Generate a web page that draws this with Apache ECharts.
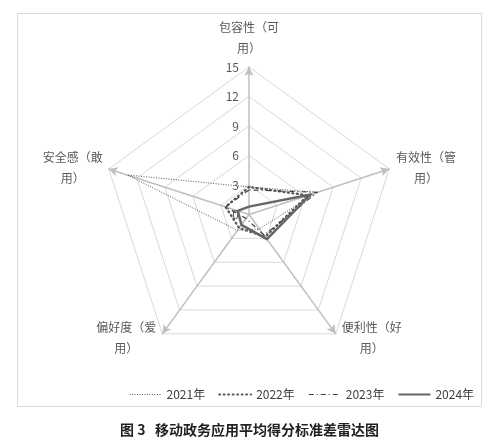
<!DOCTYPE html>
<html>
<head>
<meta charset="utf-8">
<script src="https://cdn.jsdelivr.net/npm/echarts@6/dist/echarts.min.js"></script>
<style>html,body{margin:0;padding:0;background:#fff;}#chart{width:499px;height:448px;}</style>
</head>
<body>
<div id="chart"></div>
<script>
// Indicators in ECharts radar order (counter-clockwise from top)
var indicatorNames = ['包容性（可\n用）', '安全感（敢\n用）', '偏好度（爱\n用）', '便利性（好\n用）', '有效性（管\n用）'];
var seriesNames = ['2021年', '2022年', '2023年', '2024年'];
var values2021 = [2.8, 13.0, 2.0, 1.8, 7.3];
var values2022 = [2.8, 2.5, 1.7, 2.8, 6.3];
var values2023 = [2.5, 2.5, 0.5, 2.6, 7.3];
var values2024 = [0.8, 1.2, 1.3, 3.1, 6.6];
var axisMax = 15;
var axisInterval = 3;

var chart = echarts.init(document.getElementById('chart'), null, {renderer: 'canvas'});
var FONT = '"Noto Sans CJK SC", "Noto Sans", sans-serif';

var styles = [
  {color: '#595959', width: 1, type: [1, 1.5]},
  {color: '#595959', width: 2.3, type: [1, 3.5], cap: 'round'},
  {color: '#404040', width: 1.2, type: [5, 3, 1, 3]},
  {color: '#666666', width: 2.5, type: 'solid'}
];
var allValues = [values2021, values2022, values2023, values2024];
var nameGaps = [8, 3, 5, 5, 4];

function nameFmt(v) {
  return v.split('\n').map(function (s) { return '{a|' + s + '}'; }).join('\n');
}

var option = {
  backgroundColor: '#ffffff',
  animation: false,
  graphic: [{
    type: 'rect', shape: {x: 17.5, y: 13.5, width: 464, height: 393},
    style: {fill: 'none', stroke: '#d9d9d9', lineWidth: 1}, z: -1
  }],
  title: {
    text: '图 3   移动政务应用平均得分标准差雷达图',
    left: 'center', top: 423, padding: 0,
    textStyle: {fontFamily: FONT, fontSize: 14, fontWeight: 'bold', color: '#222222'}
  },
  legend: {
    left: 127, top: 388, padding: 0,
    itemWidth: 32, itemHeight: 10, itemGap: 11.5,
    textStyle: {fontFamily: FONT, fontSize: 12, color: '#404040'},
    data: seriesNames.map(function (n, i) {
      var s = styles[i];
      return {
        name: n,
        icon: 'path://M0,0L0,0M0,5L40,5M40,10L40,10',
        itemStyle: {color: 'none', borderColor: s.color, borderWidth: Math.min(s.width, 2), borderType: s.type, borderCap: s.cap || 'butt'}
      };
    })
  },
  radar: {
    center: [249, 214.5],
    radius: 147.5,
    startAngle: 90,
    shape: 'polygon',
    splitNumber: 5,
    axisName: {
      formatter: nameFmt,
      color: '#595959',
      fontFamily: FONT,
      fontSize: 12,
      rich: {a: {width: 66, align: 'center', lineHeight: 21, fontFamily: FONT, fontSize: 12, color: '#595959'}}
    },
    nameGap: 8,
    splitArea: {show: false},
    splitLine: {lineStyle: {color: '#d9d9d9', width: 1}},
    axisLine: {lineStyle: {color: '#bfbfbf', width: 1.5}, symbol: ['none', 'arrow'], symbolSize: [7, 9]},
    indicator: indicatorNames.map(function (n, i) {
      var ind = {name: n, min: 0, max: axisMax, interval: axisInterval, nameGap: nameGaps[i]};
      if (i === 0) {
        ind.axisLabel = {show: true, color: '#595959', fontFamily: FONT, fontSize: 12, margin: 10};
      } else {
        ind.axisLabel = {show: false};
      }
      return ind;
    })
  },
  series: [{
    type: 'radar',
    symbol: 'none',
    data: seriesNames.map(function (n, i) {
      var s = styles[i];
      return {
        name: n,
        value: allValues[i],
        lineStyle: {color: s.color, width: s.width, type: s.type, cap: s.cap || 'butt'},
        itemStyle: {color: s.color},
        areaStyle: null
      };
    })
  }]
};
chart.setOption(option);
</script>
</body>
</html>
